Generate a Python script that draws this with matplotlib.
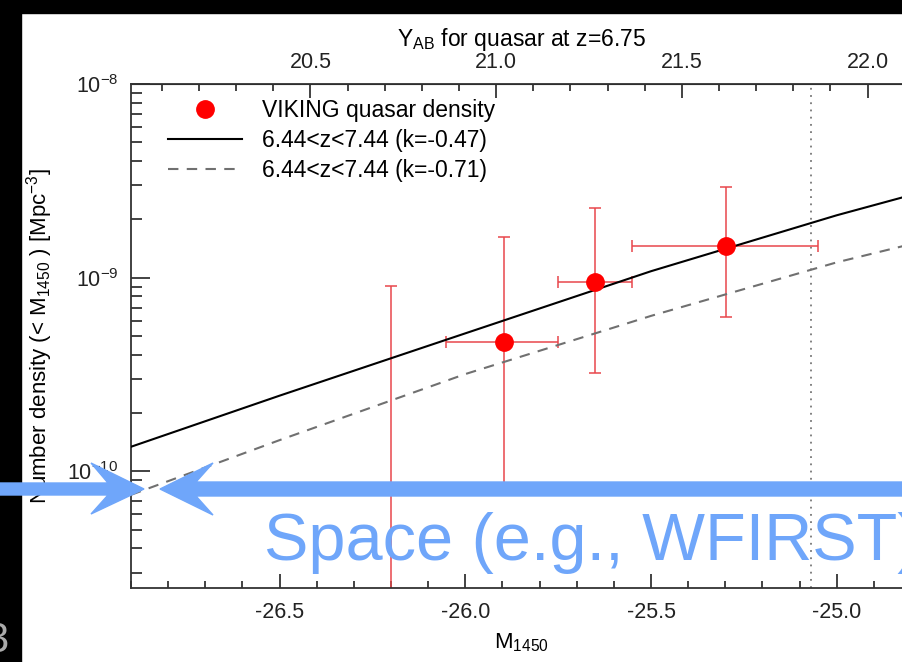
import numpy as np
import matplotlib
matplotlib.use("Agg")
import matplotlib.pyplot as plt
from matplotlib.patches import Polygon, Rectangle

plt.rcParams['font.family'] = ['Liberation Sans', 'DejaVu Sans']
plt.rcParams['mathtext.default'] = 'regular'

# ---------------------------
# data
# ---------------------------
# VIKING points (first one is an upper limit, centre below the plot)
m_obs = [-26.20, -25.895, -25.651, -25.298]
n_obs = [1.0e-11, 4.67e-10, 9.53e-10, 1.46e-9]
n_low = [5.0e-12, 8.5e-11, 3.23e-10, 6.28e-10]
n_high = [9.1e-10, 1.63e-9, 2.30e-9, 2.95e-9]
m_left = [-26.20, -26.051, -25.750, -25.551]
m_right = [-26.20, -25.750, -25.551, -25.051]

# model curves
m_model = [-26.9, -26.5, -26.0, -25.5, -25.0, -24.8]
n_k047 = [1.34e-10, 2.46e-10, 5.16e-10, 1.08e-9, 2.10e-9, 2.67e-9]
n_k071 = [7.57e-11, 1.45e-10, 3.18e-10, 6.35e-10, 1.20e-9, 1.49e-9]

m_limit = -25.07
y_offset = 46.917          # Y_AB = M1450 + offset at z=6.75

W, H = 902, 662


def px(x, y):
    return (x / W, 1 - y / H)


fig = plt.figure(figsize=(9.02, 6.62), dpi=100)
fig.patch.set_facecolor('white')

ax = fig.add_axes([131 / W, 1 - 588 / H, (911 - 131) / W, (588 - 84) / H])
ax.set_yscale('log')
ax.set_xlim(-26.9, -24.8)
ax.set_ylim(2.5e-11, 1e-8)

# error bars
n_obs_a = np.array(n_obs)
m_obs_a = np.array(m_obs)
yerr = [n_obs_a - np.array(n_low), np.array(n_high) - n_obs_a]
xerr = [m_obs_a - np.array(m_left), np.array(m_right) - m_obs_a]
ax.errorbar(m_obs, n_obs, xerr=xerr, yerr=yerr, fmt='none',
            ecolor='#e8474c', elinewidth=1.1, capsize=4.5, capthick=1.1,
            zorder=2)
ax.plot(m_obs, n_obs, 'o', color='#ff0000', markersize=12.5, zorder=4,
        label='VIKING quasar density')

ax.plot(m_model, n_k047, '-', color='black', lw=1.5, zorder=3,
        label='6.44<z<7.44 (k=-0.47)')
ax.plot(m_model, n_k071, '--', color='#707070', lw=1.5, dashes=(5, 4),
        zorder=3, label='6.44<z<7.44 (k=-0.71)')

ax.axvline(m_limit, color='#777777', lw=1.3, ls=(0, (1, 3)), zorder=1)

# ticks
fs = 15.5
ax.set_xticks([-26.5, -26.0, -25.5, -25.0])
ax.set_xticklabels(['-26.5', '-26.0', '-25.5', '-25.0'])
ax.xaxis.set_minor_locator(matplotlib.ticker.MultipleLocator(0.1))
ax.tick_params(axis='x', which='both', direction='in', top=False,
               labelsize=fs, pad=10, colors='#222222')
ax.tick_params(axis='x', which='major', length=10, width=1.2)
ax.tick_params(axis='x', which='minor', length=5, width=1.2)
ax.tick_params(axis='y', which='both', direction='in', right=False,
               labelsize=fs, pad=9, colors='#222222')
ax.tick_params(axis='y', which='major', length=14, width=1.2)
ax.tick_params(axis='y', which='minor', length=8, width=1.2)
for s in ax.spines.values():
    s.set_color('#333333')
    s.set_linewidth(1.3)

ax.set_xlabel('M$_{1450}$', fontsize=16, labelpad=6)
ax.set_ylabel('Number density (< M$_{1450}$ ) [Mpc$^{-3}$]', fontsize=16,
              labelpad=9)

sec = ax.secondary_xaxis('top', functions=(lambda m: m + y_offset,
                                            lambda y: y - y_offset))
sec.set_xticks([20.5, 21.0, 21.5, 22.0])
sec.set_xticklabels(['20.5', '21.0', '21.5', '22.0'])
sec.xaxis.set_minor_locator(matplotlib.ticker.MultipleLocator(0.1))
sec.tick_params(axis='x', which='both', direction='in', labelsize=fs, pad=8,
                colors='#222222')
sec.tick_params(axis='x', which='major', length=10, width=1.2)
sec.tick_params(axis='x', which='minor', length=5, width=1.2)
sec.set_xlabel('Y$_{AB}$ for quasar at z=6.75', fontsize=16.5, labelpad=4)

ax.legend(loc='upper left', bbox_to_anchor=(0.033, 0.992), frameon=False,
          fontsize=16.5, handlelength=3.2, handletextpad=0.9,
          labelspacing=0.3, borderpad=0, numpoints=1)

# ---------------------------
# slide overlays
# ---------------------------
fig.patches.append(Rectangle((0, 0), 21 / W, 1, transform=fig.transFigure,
                             color='black', zorder=10))
fig.patches.append(Rectangle(px(0, 13), 1, 13 / H, transform=fig.transFigure,
                             color='black', zorder=10))
fig.text(*px(9, 641), '3', color='#aaaaaa', fontsize=30, ha='right',
         va='center', zorder=11)

blue = '#6fa6fa'
arrow_r = [(160, 489), (213, 463), (196, 482), (905, 482), (905, 496),
           (196, 496), (213, 515)]
arrow_l = [(144, 489), (91, 463), (108, 483), (-5, 483), (-5, 495),
           (108, 495), (91, 514)]
for pts in (arrow_r, arrow_l):
    fig.patches.append(Polygon([px(x, y) for x, y in pts], closed=True,
                               transform=fig.transFigure, color=blue,
                               zorder=12))

fig.text(*px(264, 560), 'Space (e.g., WFIRST)', color=blue, fontsize=48,
         ha='left', va='baseline', zorder=12)

fig.savefig('out.png', dpi=100)
